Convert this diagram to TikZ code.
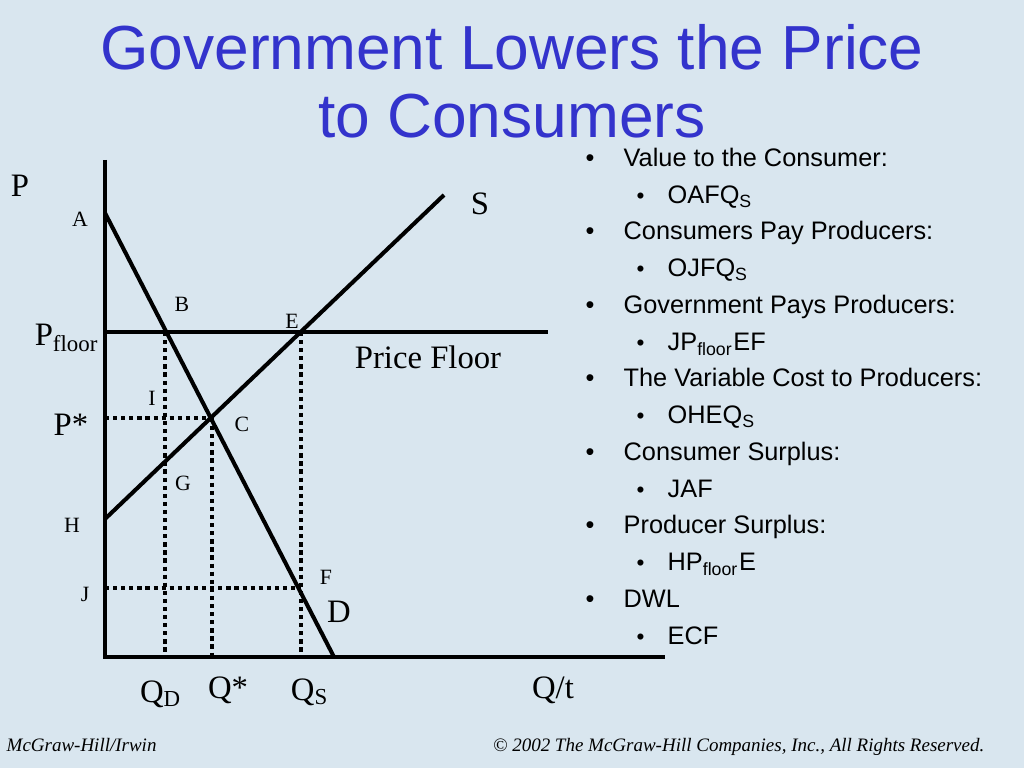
\documentclass[tikz,border=0pt]{standalone}
\usepackage{fontspec}
\setmainfont{Liberation Serif}
\newfontfamily\arialfont{Liberation Sans}
\usepackage{xcolor}
\usepackage{tikz}
\usetikzlibrary{positioning,calc}

\definecolor{slidebg}{RGB}{217,230,239}
\definecolor{titleblue}{RGB}{51,51,204}

\tikzset{
    curve/.style={line width=1.15pt},
    guide/.style={line width=1.2pt, dash pattern=on 1.2pt off 1.1pt},
    biglab/.style={font=\fontsize{9.3}{10}\selectfont, inner sep=0pt},
    ptlab/.style={font=\fontsize{6.2}{7}\selectfont, inner sep=0pt},
    lvlone/.style={anchor=base west, inner sep=0pt, font=\arialfont\fontsize{7.2}{8}\selectfont},
    lvltwo/.style={lvlone},
    foot/.style={inner sep=0pt, font=\itshape\fontsize{5.4}{6}\selectfont}
}
\newcommand{\bulone}{\llap{\textbullet\hspace{8.3pt}}}
\newcommand{\bultwo}{\llap{{\fontsize{6.4}{7}\selectfont\textbullet}\hspace{6.6pt}}}

\begin{document}
\begin{tikzpicture}[x=0.01cm, y=-0.01cm]
            \fill[slidebg] (0,0) rectangle (1024,768);
            \useasboundingbox (0,0) rectangle (1024,768);

            % title
            \node (Title1) at (512,70) [anchor=base, inner sep=0pt, text=titleblue, font=\arialfont\fontsize{17.7}{19}\selectfont] {Government Lowers the Price};
            \node (Title2) at (512,138) [anchor=base, inner sep=0pt, text=titleblue, font=\arialfont\fontsize{17.7}{19}\selectfont] {to Consumers};

            % points of the graph
            \coordinate (O) at (105,657);
            \coordinate (Ptop) at (105,160);
            \coordinate (Qend) at (665,657);
            \coordinate (A) at (105,213);
            \coordinate (Dend) at (334,657);
            \coordinate (H) at (105,519);
            \coordinate (Send) at (444,195);
            \coordinate (Pf) at (105,332);
            \coordinate (Pfend) at (548,332);
            \coordinate (B) at (165,332);
            \coordinate (E) at (301,332);
            \coordinate (C) at (212,418);
            \coordinate (F) at (301,588);
            \coordinate (Ps) at (105,418);
            \coordinate (J) at (105,588);
            \coordinate (QD) at (165,657);
            \coordinate (Qs) at (212,657);
            \coordinate (QS) at (301,657);

            % dotted guides
            \draw [guide] (Ps) -- (C);
            \draw [guide] (J) -- (F);
            \draw [guide] (B) -- (QD);
            \draw [guide] (C) -- (Qs);
            \draw [guide] (E) -- (QS);

            % axes and curves
            \draw [curve] (Ptop) -- (O) -- (Qend);
            \draw [curve] (A) -- (Dend);
            \draw [curve] (H) -- (Send);
            \draw [curve] (Pf) -- (Pfend);

            % labels
            \node (labP) at (20,186) [biglab] {P};
            \node (labS) at (480,204) [biglab] {S};
            \node (labD) at (339,612) [biglab] {D};
            \node (labPfloor) at (67,338) [biglab] {P\textsubscript{floor}};
            \node (labPstar) at (71,425) [biglab] {P*};
            \node (labPF) at (428,357) [biglab] {Price Floor};
            \node (labQD) at (161,694) [biglab] {Q\textsubscript{D}};
            \node (labQstar) at (228,690) [biglab] {Q*};
            \node (labQS) at (310,692) [biglab] {Q\textsubscript{S}};
            \node (labQt) at (553,690) [biglab] {Q/t};

            \node (labA) at (80,219) [ptlab] {A};
            \node (labB) at (182,304) [ptlab] {B};
            \node (labE) at (292,321) [ptlab] {E};
            \node (labI) at (152,398) [ptlab] {I};
            \node (labC) at (242,424) [ptlab] {C};
            \node (labG) at (183,483) [ptlab] {G};
            \node (labH) at (72,525) [ptlab] {H};
            \node (labJ) at (85,594) [ptlab] {J};
            \node (labF) at (326,577) [ptlab] {F};

            % list on the right
            \node (L1) at (623,167) [lvlone] {\bulone Value to the Consumer:};
            \node (L2) at (667,204) [lvltwo] {\bultwo OAFQ\textsubscript{S}};
            \node (L3) at (623,240) [lvlone] {\bulone Consumers Pay Producers:};
            \node (L4) at (667,277) [lvltwo] {\bultwo OJFQ\textsubscript{S}};
            \node (L5) at (623,314) [lvlone] {\bulone Government Pays Producers:};
            \node (L6) at (667,351) [lvltwo] {\bultwo JP\textsubscript{floor}EF};
            \node (L7) at (623,387) [lvlone] {\bulone The Variable Cost to Producers:};
            \node (L8) at (667,424) [lvltwo] {\bultwo OHEQ\textsubscript{S}};
            \node (L9) at (623,461) [lvlone] {\bulone Consumer Surplus:};
            \node (L10) at (667,498) [lvltwo] {\bultwo JAF};
            \node (L11) at (623,534) [lvlone] {\bulone Producer Surplus:};
            \node (L12) at (667,571) [lvltwo] {\bultwo HP\textsubscript{floor}E};
            \node (L13) at (623,608) [lvlone] {\bulone DWL};
            \node (L14) at (667,645) [lvltwo] {\bultwo ECF};

            % footer
            \node (Foot1) at (6,752) [foot, anchor=base west] {McGraw-Hill/Irwin};
            \node (Foot2) at (985,752) [foot, anchor=base east] {\textcopyright{} 2002 The McGraw-Hill Companies, Inc., All Rights Reserved.};
        \end{tikzpicture}
\end{document}
